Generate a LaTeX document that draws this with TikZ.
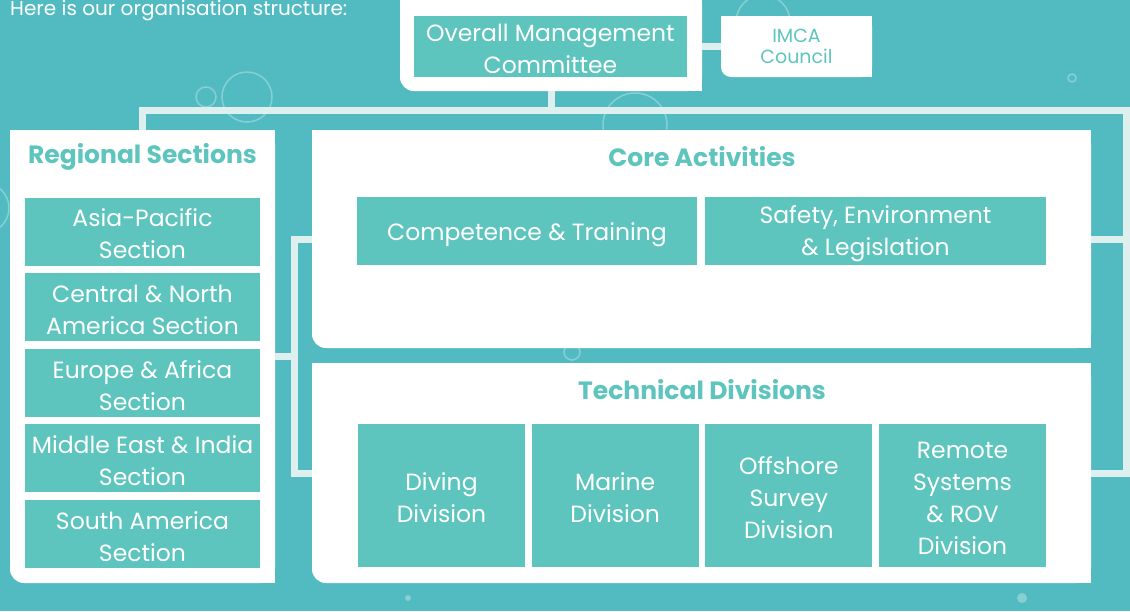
\documentclass[tikz,border=0pt]{standalone}
\usepackage{fontspec}
\setmainfont{Poppins}
\usepackage{tikz}
\definecolor{sea}{HTML}{52BBC2}
\definecolor{tilec}{HTML}{5DC4BE}
\definecolor{linkc}{HTML}{DDF0EE}
\definecolor{bubble}{HTML}{86D0D4}

\begin{document}
\begin{tikzpicture}[x=1pt,y=-1pt,
  panel/.style={fill=white,inner sep=0pt},
  tile/.style={fill=tilec,inner sep=0pt},
  tiletext/.style={text=white,align=center,inner sep=0pt,yshift=-2.5pt,
    font=\fontsize{23.5}{32}\selectfont},
  heading/.style={text=tilec,inner sep=0pt,font=\bfseries\fontsize{25}{28}\selectfont},
  link/.style={draw=linkc,line width=7pt}]
  % page
  \clip (0,0) rectangle (1130,611);
  \fill[sea] (0,0) rectangle (1130,611);
  % bubbles
  \draw[bubble,line width=1.5pt] (247,97) circle[radius=25];
  \draw[bubble,line width=1.5pt] (206,97) circle[radius=10];
  \draw[bubble,line width=1.5pt] (635,125) circle[radius=32];
  \draw[bubble,line width=1.5pt] (763,22) circle[radius=27];
  \draw[bubble,line width=1.5pt] (1072,78) circle[radius=4];
  \draw[bubble,line width=1.5pt] (572,352) circle[radius=8];
  \draw[bubble,line width=1.5pt] (-16,208) circle[radius=25];
  \fill[bubble] (1022,598) circle[radius=5];
  \fill[bubble] (408,598) circle[radius=3];

  \node[anchor=base west,text=white,inner sep=0pt,font=\fontsize{20}{22}\selectfont]
    (intro) at (10,15) {Here is our organisation structure:};

  % white panels, only the lower left corner is round
  \node[panel,rounded corners=14pt,minimum width=302pt,minimum height=101pt] (omc) at (551,40.5) {};
  \node[panel,rounded corners=10pt,minimum width=151pt,minimum height=61pt] (imca) at (796.5,46.5) {};
  \node[panel,rounded corners=14pt,minimum width=265pt,minimum height=453pt] (regional) at (142.5,356.5) {};
  \node[panel,rounded corners=14pt,minimum width=779pt,minimum height=218pt] (core) at (701.5,239) {};
  \node[panel,rounded corners=14pt,minimum width=779pt,minimum height=220pt] (tech) at (701.5,473) {};
  \foreach \b/\r in {omc/14,imca/10,regional/14,core/14,tech/14}{
    \fill[white] ([xshift=\r pt]\b.south west) rectangle (\b.north east);
    \fill[white] ([yshift=\r pt]\b.south west) rectangle (\b.north east);
  }

  % connectors
  \coordinate (busR) at (1126,110);
  \coordinate (spineL) at (294,356.5);
  \draw[link] (omc.east |- imca.west) -- (imca.west);
  \draw[link] (omc.south) -- (omc.south |- busR);
  \draw[link] (regional.north) -- (regional.north |- busR) -- (busR) |- (tech.east);
  \draw[link] (core.east) -- (core.east -| busR);
  \draw[link] (regional.east) -- (spineL);
  \draw[link] (core.west) -| (spineL) |- (tech.west);

  % headings
  \node[text=tilec,align=center,inner sep=0pt,font=\fontsize{19}{21}\selectfont]
    (imcalabel) at (imca) {IMCA\\Council};
  \node[heading] (regtitle) at (142.5,157) {Regional Sections};
  \node[heading] (coretitle) at (702,157) {Core Activities};
  \node[heading] (techtitle) at (702,390) {Technical Divisions};

  % tiles
  \node[tile,minimum width=273pt,minimum height=61pt,
    label={[tiletext]center:{Overall Management\\Committee}}] (omctile) at (550.5,46.5) {};
  \node[tile,minimum width=340pt,minimum height=68pt,
    label={[tiletext,yshift=-1pt]center:{Competence \& Training}}] (comp) at (527,231) {};
  \node[tile,minimum width=341pt,minimum height=68pt,
    label={[tiletext]center:{Safety, Environment\\\& Legislation}}] (safety) at (875.5,231) {};
  \foreach \t [count=\i from 0] in {{Asia-Pacific\\Section},{Central \& North\\America Section},
      {Europe \& Africa\\Section},{Middle East \& India\\Section},{South America\\Section}}
    \node[tile,minimum width=235pt,minimum height=68pt,
      label={[tiletext]center:{\t}}] (sec\i) at (142.5,{231.5+75.6*\i}) {};
  \foreach \t [count=\i from 0] in {{Diving\\Division},{Marine\\Division},
      {Offshore\\Survey\\Division},{Remote\\Systems\\\& ROV\\Division}}
    \node[tile,minimum width=167pt,minimum height=143pt,
      label={[tiletext]center:{\t}}] (div\i) at ({441.5+173.67*\i},495.5) {};
\end{tikzpicture}
\end{document}
